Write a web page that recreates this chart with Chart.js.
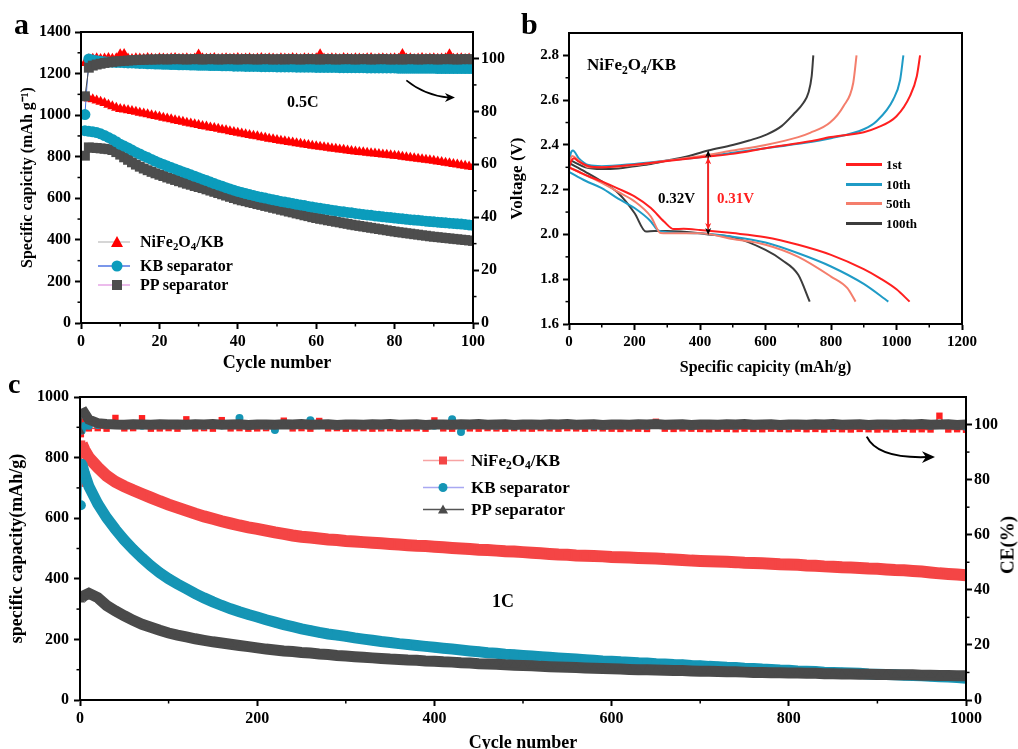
<!DOCTYPE html>
<html><head><meta charset="utf-8">
<script src="https://cdn.jsdelivr.net/npm/chart.js@4.4.1/dist/chart.umd.min.js"></script>
<style>
body{margin:0;background:#fff;width:1018px;height:749px;position:relative;overflow:hidden;font-family:'Liberation Serif','Times New Roman',serif;font-weight:bold;color:#000}
canvas{position:absolute}
.t{position:absolute;white-space:nowrap;line-height:1}
.row{position:absolute;display:flex;align-items:center;white-space:nowrap;line-height:1;transform:translateY(-50%)}
sub{font-size:68%;vertical-align:-0.32em;line-height:0}
</style></head><body>
<canvas id="ca" width="510" height="380" style="left:0;top:0"></canvas>
<canvas id="cb" width="518" height="380" style="left:500px;top:0"></canvas>
<canvas id="cc" width="1018" height="380" style="left:0;top:380px"></canvas>

<div class="t" style="left:14px;top:9px;font-size:30px">a</div>
<div class="t" style="left:521px;top:9px;font-size:30px">b</div>
<div class="t" style="left:8px;top:370px;font-size:28px">c</div>
<div class="t" style="left:287px;top:94px;font-size:16px">0.5C</div>
<div class="t" style="left:492px;top:592px;font-size:18px">1C</div>
<div class="t" style="left:587px;top:56px;font-size:17px">NiFe<sub>2</sub>O<sub>4</sub>/KB</div>
<div class="t" style="left:658px;top:191px;font-size:15px">0.32V</div>
<div class="t" style="left:717px;top:191px;font-size:15px;color:#ff1f1f">0.31V</div>
<div class="t" style="left:1007px;top:545px;font-size:19px;transform:translate(-50%,-50%) rotate(-90deg)">CE(%)</div>

<!-- legend a -->
<div class="row" style="left:98px;top:242px;font-size:16px"><svg width="34" height="14"><line x1="0" y1="7" x2="32" y2="7" stroke="#c8c8c8" stroke-width="1.5"/><polygon points="19,1 25,12 13,12" fill="#ff0000"/></svg><span style="margin-left:8px">NiFe<sub>2</sub>O<sub>4</sub>/KB</span></div>
<div class="row" style="left:98px;top:266px;font-size:16px"><svg width="34" height="14"><line x1="0" y1="7" x2="32" y2="7" stroke="#4f74e3" stroke-width="1.5"/><circle cx="19" cy="7" r="5.5" fill="#0b9cbc"/></svg><span style="margin-left:8px">KB separator</span></div>
<div class="row" style="left:98px;top:285px;font-size:16px"><svg width="34" height="14"><line x1="0" y1="7" x2="32" y2="7" stroke="#e6a6e6" stroke-width="1.5"/><rect x="14" y="2" width="10" height="10" fill="#4d4d4d"/></svg><span style="margin-left:8px">PP separator</span></div>

<!-- legend b -->
<div class="row" style="left:846px;top:164px;font-size:13px"><svg width="37" height="6"><line x1="0" y1="3" x2="36" y2="3" stroke="#ff1f1f" stroke-width="3"/></svg><span style="margin-left:3px">1st</span></div>
<div class="row" style="left:846px;top:184px;font-size:13px"><svg width="37" height="6"><line x1="0" y1="3" x2="36" y2="3" stroke="#1f9bc6" stroke-width="3"/></svg><span style="margin-left:3px">10th</span></div>
<div class="row" style="left:846px;top:203px;font-size:13px"><svg width="37" height="6"><line x1="0" y1="3" x2="36" y2="3" stroke="#f47e6c" stroke-width="3"/></svg><span style="margin-left:3px">50th</span></div>
<div class="row" style="left:846px;top:223px;font-size:13px"><svg width="37" height="6"><line x1="0" y1="3" x2="36" y2="3" stroke="#3c3c3c" stroke-width="3"/></svg><span style="margin-left:3px">100th</span></div>

<!-- legend c -->
<div class="row" style="left:423px;top:460px;font-size:17px"><svg width="42" height="12"><line x1="0" y1="6" x2="41" y2="6" stroke="#f7a3a3" stroke-width="1.5"/><rect x="16" y="2" width="8" height="8" fill="#f44545"/></svg><span style="margin-left:6px">NiFe<sub>2</sub>O<sub>4</sub>/KB</span></div>
<div class="row" style="left:423px;top:487px;font-size:17px"><svg width="42" height="12"><line x1="0" y1="6" x2="41" y2="6" stroke="#a8a8f2" stroke-width="1.5"/><circle cx="20" cy="6" r="4.5" fill="#1595b5"/></svg><span style="margin-left:6px">KB separator</span></div>
<div class="row" style="left:423px;top:509px;font-size:17px"><svg width="42" height="12"><line x1="0" y1="6" x2="41" y2="6" stroke="#555" stroke-width="1.5"/><polygon points="20,1 25,10 15,10" fill="#4a4a4a"/></svg><span style="margin-left:6px">PP separator</span></div>

<script>
// ---------------- Panel a (0.5C, 100 cycles) ----------------
const cyclesA = Array.from({length: 100}, (_, i) => i + 1);
const xTicksA = [0, 20, 40, 60, 80, 100];
const yTicksA = [0, 200, 400, 600, 800, 1000, 1200, 1400];
const y2TicksA = [0, 20, 40, 60, 80, 100];
const redCapA = [1085,1080,1076,1070,1065,1058,1050,1043,1036,1030,
 1027,1024,1020,1016,1012,1008,1004,1000,996,992,
 988,984,980,976,972,968,964,960,956,952,
 948,945,941,938,934,930,927,923,919,915,
 912,908,905,901,898,894,891,887,884,880,
 877,874,871,868,865,862,859,856,853,850,
 848,845,843,840,838,835,833,830,828,825,
 823,821,819,817,815,813,811,809,807,805,
 803,800,798,795,793,790,788,785,783,780,
 777,774,771,768,765,762,759,756,753,750];
const cyanCapA = [925,922,920,916,910,902,893,883,872,860,
 851,842,832,822,813,804,796,787,778,770,
 763,755,748,741,734,727,720,713,706,699,
 692,685,678,671,664,658,651,645,639,633,
 628,623,618,614,609,605,601,597,593,589,
 585,582,578,575,571,568,565,561,558,555,
 552,549,546,543,540,537,535,532,530,527,
 525,522,520,518,515,513,511,509,507,505,
 503,501,499,497,495,494,492,490,488,487,
 485,483,482,480,479,477,476,474,472,470];
const grayCapA = [805,845,843,842,840,838,836,832,822,810,
 797,785,773,762,752,743,735,727,720,713,
 707,700,694,688,682,676,670,665,659,654,
 649,643,637,631,625,619,613,607,601,595,
 590,586,581,577,572,568,563,559,554,550,
 545,541,536,532,527,523,518,514,509,505,
 501,498,494,491,487,484,480,477,473,470,
 467,464,461,458,455,452,449,446,443,440,
 437,435,432,430,427,425,422,420,417,415,
 413,411,409,407,405,403,401,399,397,395];
const redCEa = [98.3,99.7,99.9,100.1,99.8,100.0,100.2,99.9,100.1,101.6,
 101.7,100.0,99.8,100.1,100.0,99.9,100.2,100.0,99.8,100.1,
 100.0,99.9,100.1,100.2,99.9,100.0,100.1,99.8,100.0,101.5,
 100.1,99.9,100.0,100.2,99.8,100.0,100.1,99.9,100.0,100.2,
 99.9,100.0,100.1,99.8,100.0,100.2,99.9,100.1,100.0,99.8,
 100.1,100.0,99.9,100.2,100.0,99.8,100.1,100.0,99.9,100.1,
 101.6,100.0,99.9,100.1,100.0,99.8,100.2,100.0,99.9,100.1,
 100.0,99.9,100.1,100.2,99.8,100.0,100.1,99.9,100.0,100.1,
 99.9,101.7,100.0,100.1,99.8,100.0,100.2,99.9,100.0,100.1,
 99.9,100.0,100.1,101.6,99.9,100.0,100.1,99.8,100.0,100.1];
const cyanCEa = [78.8,99.8,99.4,99.1,98.9,98.8,98.7,98.6,98.5,98.5,
 98.4,98.3,98.3,98.2,98.1,98.1,98.0,98.0,97.9,97.9,
 97.8,97.8,97.7,97.7,97.6,97.6,97.6,97.5,97.5,97.4,
 97.4,97.4,97.3,97.3,97.3,97.2,97.2,97.2,97.1,97.1,
 97.1,97.0,97.0,97.0,97.0,96.9,96.9,96.9,96.9,96.8,
 96.8,96.8,96.8,96.8,96.7,96.7,96.7,96.7,96.7,96.6,
 96.6,96.6,96.6,96.6,96.6,96.5,96.5,96.5,96.5,96.5,
 96.5,96.5,96.4,96.4,96.4,96.4,96.4,96.4,96.4,96.4,
 96.3,96.3,96.3,96.3,96.3,96.3,96.3,96.3,96.3,96.3,
 96.2,96.2,96.2,96.2,96.2,96.2,96.2,96.2,96.2,96.2];
const grayCEa = [85.7,96.5,97.3,97.7,98.0,98.3,98.5,98.7,98.9,99.0,
 99.1,99.2,99.3,99.4,99.5,99.5,99.6,99.6,99.6,99.7,
 99.7,99.6,99.7,99.8,99.7,99.7,99.6,99.7,99.8,99.7,
 99.6,99.7,99.8,99.7,99.6,99.7,99.7,99.8,99.7,99.6,
 99.7,99.8,99.7,99.7,99.6,99.7,99.8,99.7,99.6,99.7,
 99.7,99.6,99.8,99.7,99.7,99.6,99.7,99.8,99.7,99.7,
 99.6,99.7,99.8,99.7,99.6,99.7,99.7,99.8,99.7,99.6,
 99.7,99.8,99.7,99.6,99.7,99.7,99.8,99.7,99.6,99.7,
 99.7,99.6,99.7,99.8,99.7,99.6,99.7,99.7,99.8,99.7,
 99.6,99.7,99.8,99.7,99.7,99.6,99.7,99.8,99.7,99.7];
const xMinorA = [10, 30, 50, 70, 90];
const yMinorA = [100, 300, 500, 700, 900, 1100, 1300];
const y2MinorA = [10, 30, 50, 70, 90];
const arrowAx = [83, 87.7, 95.4], arrowAy = [91.7, 86.0, 85.2];

// ---------------- Panel b (voltage profiles) ----------------
const xTicksB = [0, 200, 400, 600, 800, 1000, 1200];
const yTicksB = [1.6, 1.8, 2.0, 2.2, 2.4, 2.6, 2.8];
const xMinorB = [100, 300, 500, 700, 900, 1100];
const yMinorB = [1.7, 1.9, 2.1, 2.3, 2.5, 2.7];
const cycleNames = ['1st', '10th', '50th', '100th'];
const dis1Cap = [0,30,60,100,150,200,250,290,320,350,400,500,600,700,800,900,950,1000,1040];
const dis1V   = [2.30,2.28,2.26,2.237,2.205,2.17,2.118,2.058,2.024,2.025,2.02,2.006,1.988,1.954,1.909,1.845,1.804,1.755,1.70];
const ch1Cap  = [0,8,15,30,60,100,200,300,430,500,603,736,800,900,939,1000,1041,1062,1072];
const ch1V    = [2.30,2.33,2.34,2.325,2.305,2.30,2.312,2.328,2.349,2.36,2.386,2.416,2.435,2.457,2.476,2.528,2.618,2.707,2.80];
const dis10Cap = [0,50,100,150,200,250,270,300,400,500,600,700,800,900,975];
const dis10V   = [2.28,2.24,2.207,2.16,2.118,2.058,2.02,2.01,2.005,1.99,1.964,1.916,1.857,1.779,1.70];
const ch10Cap  = [0,5,12,30,60,100,200,300,400,500,600,700,800,900,939,990,1011,1021];
const ch10V    = [2.28,2.36,2.375,2.34,2.31,2.305,2.315,2.33,2.345,2.365,2.385,2.405,2.43,2.47,2.506,2.603,2.69,2.80];
const dis50Cap = [0,50,100,150,200,250,280,300,400,500,600,700,800,850,875];
const dis50V   = [2.30,2.265,2.23,2.19,2.148,2.08,2.006,2.005,2.005,1.98,1.954,1.90,1.812,1.76,1.70];
const ch50Cap  = [0,10,30,60,100,200,300,400,500,600,700,736,797,838,868,878];
const ch50V    = [2.32,2.35,2.33,2.30,2.30,2.31,2.33,2.35,2.375,2.40,2.435,2.454,2.50,2.573,2.678,2.80];
const dis100Cap = [0,50,100,150,200,235,260,300,400,425,500,600,650,700,735];
const dis100V   = [2.32,2.28,2.237,2.185,2.096,2.013,2.015,2.015,2.005,2.0,1.988,1.931,1.886,1.82,1.70];
const ch100Cap  = [0,20,50,100,150,200,250,300,350,425,500,550,603,649,685,716,731,741,746];
const ch100V    = [2.335,2.32,2.30,2.292,2.295,2.305,2.315,2.33,2.345,2.375,2.40,2.42,2.446,2.484,2.536,2.588,2.633,2.707,2.80];
const gapCap = 425, gapBlack = [1.998, 2.376], gapRed = [2.02, 2.345];

// ---------------- Panel c (1C, 1000 cycles) ----------------
const cyclesC = [1, 2, 5].concat(Array.from({length: 100}, (_, i) => (i + 1) * 10));
const xTicksC = [0, 200, 400, 600, 800, 1000];
const yTicksC = [0, 200, 400, 600, 800, 1000];
const y2TicksC = [0, 20, 40, 60, 80, 100];
const xMinorC = [100, 300, 500, 700, 900];
const yMinorC = [100, 300, 500, 700, 900];
const y2MinorC = [10, 30, 50, 70, 90];
const redCapC = [715,845,825,
 800,768,740,720,705,692,680,668,656,645,
 635,625,615,606,598,590,583,576,570,565,
 559,553,548,543,539,536,533,530,528,525,
 523,521,519,517,515,513,511,509,508,506,
 504,502,500,498,496,495,493,491,490,488,
 486,484,482,480,479,477,476,475,474,472,
 471,470,469,468,467,465,464,462,460,459,
 458,457,456,455,453,452,451,450,448,447,
 446,444,443,441,440,438,437,436,434,433,
 431,429,428,426,424,421,418,416,414,412];
const cyanCapC = [643,780,748,
 705,648,602,563,528,497,469,443,420,400,
 383,367,351,337,324,312,301,291,282,274,
 265,257,249,242,235,229,223,218,214,210,
 205,201,197,193,190,186,183,180,177,174,
 171,168,165,162,159,156,154,151,149,147,
 145,143,141,139,137,135,133,131,129,128,
 126,125,123,122,120,119,117,116,114,113,
 111,110,108,107,105,104,102,101,99,98,
 96,95,94,92,91,90,89,88,86,85,
 84,83,82,81,80,78,77,76,74,72];
const grayCapC = [330,338,345,
 352,338,312,294,278,263,250,240,230,221,
 214,208,202,197,192,188,184,180,176,172,
 168,165,162,160,157,155,152,150,147,145,
 143,141,139,137,135,134,132,131,129,128,
 126,125,123,122,120,119,118,116,115,114,
 113,111,110,109,108,107,106,105,104,103,
 102,101,100,100,99,98,97,97,96,95,
 95,94,93,93,92,91,91,90,90,89,
 89,88,88,87,87,86,86,85,85,84,
 84,83,83,83,82,82,81,81,80,80];
const redCEc = [96.5,101.0,99.0,
 98.6,98.7,98.5,102.4,98.6,98.7,102.3,98.5,98.6,98.7,
 98.5,101.9,98.6,98.7,98.5,101.6,98.6,98.7,98.5,98.6,
 98.7,98.5,101.4,98.6,98.7,98.5,101.3,98.6,98.7,98.5,
 98.6,98.7,98.5,98.6,98.7,98.5,98.6,98.7,98.5,101.5,
 98.6,98.5,98.7,98.6,98.5,98.7,98.6,98.5,98.7,98.6,
 98.5,98.7,98.6,98.5,98.7,98.6,98.5,98.7,98.6,98.5,
 98.4,98.6,98.5,98.4,101.0,98.5,98.4,98.6,98.5,98.4,
 98.3,98.5,98.4,98.3,98.5,98.4,98.3,98.5,98.4,98.3,
 98.5,98.3,98.4,98.2,98.4,98.3,98.2,98.4,98.3,98.2,
 98.3,98.2,98.4,98.2,98.3,98.2,103.2,98.2,98.3,98.1];
const cyanCEc = [99.0,97.8,99.5,
 99.6,99.8,99.7,99.9,99.7,99.8,99.6,99.9,99.7,99.8,
 99.7,99.9,99.8,99.6,99.8,99.7,99.9,102.4,99.7,99.8,
 99.6,98.0,99.8,99.7,99.9,101.6,99.7,99.8,99.6,99.8,
 99.7,99.9,99.8,99.6,99.8,99.7,99.9,99.7,99.8,99.6,
 99.8,101.9,97.3,99.7,99.9,99.8,99.6,99.8,99.7,99.9,
 99.7,99.8,99.6,99.8,99.9,99.7,99.8,99.6,99.8,99.7,
 99.9,99.7,99.8,99.6,99.8,99.7,99.9,99.8,99.6,99.8,
 99.7,99.9,99.8,99.6,99.8,99.7,99.9,99.7,99.8,99.6,
 99.8,99.7,99.9,99.8,99.6,99.8,99.7,99.9,99.7,99.8,
 99.6,99.8,99.7,99.9,99.8,99.6,99.8,99.7,99.9,99.2];
const grayCEc = [97.5,103.8,104.3,
 101.8,100.5,100.2,100.0,99.9,100.1,100.0,99.9,100.1,100.0,
 100.0,99.9,100.1,100.0,100.2,99.9,100.0,100.1,99.8,100.0,
 100.0,99.9,100.1,100.0,100.2,99.9,100.0,100.1,99.8,100.0,
 100.0,99.9,100.1,100.0,100.2,99.9,100.0,100.1,99.8,100.0,
 100.0,99.9,100.1,100.0,100.2,99.9,100.0,100.1,99.8,100.0,
 100.0,99.9,100.1,100.0,100.2,99.9,100.0,100.1,99.8,100.0,
 100.0,99.9,100.1,100.0,100.2,99.9,100.0,100.1,99.8,100.0,
 100.0,99.9,100.1,100.0,100.2,99.9,100.0,100.1,99.8,100.0,
 100.0,99.9,100.1,100.0,100.2,99.9,100.0,100.1,99.8,100.0,
 100.0,99.9,100.1,100.0,100.2,99.9,100.0,100.1,99.8,100.0];
const arrowCx = [888, 900, 965], arrowCy = [95.6, 87.6, 88.2];

// ---------------- helpers ----------------
Chart.defaults.font.family = "'Liberation Serif','Times New Roman',serif";
Chart.defaults.font.weight = 'bold';
Chart.defaults.color = '#000';

const pts = (xs, ys) => xs.map((x, i) => ({x: x, y: ys[i]}));

function axis(o) {
  return {
    type: 'linear', position: o.pos, min: o.min, max: o.max,
    afterFit: s => { if (o.pos === 'left' || o.pos === 'right') s.width = o.size; else s.height = o.size; },
    afterBuildTicks: s => { s.ticks = o.ticks.map(v => ({value: v})); },
    grid: {display: true, drawOnChartArea: false, drawTicks: true, tickLength: 6, tickWidth: 2, tickColor: '#000'},
    border: {display: true, color: '#000', width: 2},
    ticks: {font: {size: o.fs, weight: 'bold'}, color: '#000', padding: o.pad, maxRotation: 0, autoSkip: false,
            callback: o.fmt || (v => String(v))},
    title: o.title ? {display: true, text: o.title, color: '#000', font: {size: o.tfs, weight: 'bold'}, padding: o.tpad} : {display: false}
  };
}

const frame = {
  id: 'frame',
  afterDatasetsDraw(chart) {
    const {ctx, chartArea: a} = chart;
    ctx.save(); ctx.strokeStyle = '#000'; ctx.lineWidth = 2;
    ctx.strokeRect(a.left, a.top, a.right - a.left, a.bottom - a.top);
    ctx.restore();
  }
};
const minorTicks = {
  id: 'minorTicks',
  afterDraw(chart, args, opts) {
    const ctx = chart.ctx;
    (opts.list || []).forEach(m => {
      const s = chart.scales[m.axis];
      ctx.save(); ctx.strokeStyle = '#000'; ctx.lineWidth = 1.5;
      m.values.forEach(v => {
        const p = s.getPixelForValue(v);
        ctx.beginPath();
        if (s.isHorizontal()) { ctx.moveTo(p, s.top); ctx.lineTo(p, s.top + 3.5); }
        else if (s.position === 'left') { ctx.moveTo(s.right, p); ctx.lineTo(s.right - 3.5, p); }
        else { ctx.moveTo(s.left, p); ctx.lineTo(s.left + 3.5, p); }
        ctx.stroke();
      });
      ctx.restore();
    });
  }
};
function head(ctx, from, to, size, wid) {
  const ang = Math.atan2(to[1] - from[1], to[0] - from[0]);
  const c = Math.cos(ang), s = Math.sin(ang);
  ctx.beginPath();
  ctx.moveTo(to[0], to[1]);
  ctx.lineTo(to[0] - size * c + wid * s, to[1] - size * s - wid * c);
  ctx.lineTo(to[0] - size * 0.7 * c, to[1] - size * 0.7 * s);
  ctx.lineTo(to[0] - size * c - wid * s, to[1] - size * s + wid * c);
  ctx.closePath(); ctx.fill();
}
const deco = {
  id: 'deco',
  afterDatasetsDraw(chart, args, opts) {
    const ctx = chart.ctx;
    (opts.curves || []).forEach(cv => {
      const xs = chart.scales.x, ys = chart.scales[cv.yAxis];
      const P = cv.xs.map((v, i) => [xs.getPixelForValue(v), ys.getPixelForValue(cv.ys[i])]);
      ctx.save(); ctx.strokeStyle = '#000'; ctx.fillStyle = '#000'; ctx.lineWidth = cv.w;
      ctx.beginPath(); ctx.moveTo(P[0][0], P[0][1]);
      ctx.quadraticCurveTo(P[1][0], P[1][1], P[2][0] - cv.head * 0.6, P[2][1]);
      ctx.stroke();
      head(ctx, [P[2][0] - 10, P[2][1]], P[2], cv.head, cv.head * 0.45);
      ctx.restore();
    });
    (opts.gaps || []).forEach(g => {
      const xs = chart.scales.x, ys = chart.scales.y;
      const x = xs.getPixelForValue(g.x);
      [[g.black, '#000', 1.3], [g.red, '#ff1f1f', 1.8]].forEach(([r, col, w]) => {
        const yb = ys.getPixelForValue(r[0]), yt = ys.getPixelForValue(r[1]);
        ctx.save(); ctx.strokeStyle = col; ctx.fillStyle = col; ctx.lineWidth = w;
        ctx.beginPath(); ctx.moveTo(x, yt + 4); ctx.lineTo(x, yb - 4); ctx.stroke();
        head(ctx, [x, yt + 10], [x, yt], 7, 3);
        head(ctx, [x, yb - 10], [x, yb], 7, 3);
        ctx.restore();
      });
    });
  }
};
const base = {responsive: false, animation: false, devicePixelRatio: 1, events: []};

// ---------------- Chart a ----------------
new Chart(document.getElementById('ca'), {
  type: 'line',
  data: {datasets: [
    {data: pts(cyclesA, grayCEa), yAxisID: 'y2', order: 0, borderColor: '#4d4d4d', borderWidth: 1, pointStyle: 'rect', pointRadius: 7, pointBackgroundColor: '#4d4d4d', pointBorderWidth: 0},
    {data: pts(cyclesA, redCEa), yAxisID: 'y2', order: 2, borderColor: '#ff0000', borderWidth: 1, pointStyle: 'triangle', pointRadius: 6, pointBackgroundColor: '#ff0000', pointBorderWidth: 0},
    {data: pts(cyclesA, cyanCEa), yAxisID: 'y2', order: 1, borderColor: '#3f6fe0', borderWidth: 1, pointStyle: 'circle', pointRadius: 5.5, pointBackgroundColor: '#0b9cbc', pointBorderWidth: 0},
    {data: pts(cyclesA, redCapA), yAxisID: 'y', order: 3, borderColor: '#ff0000', borderWidth: 1, pointStyle: 'triangle', pointRadius: 6, pointBackgroundColor: '#ff0000', pointBorderWidth: 0},
    {data: pts(cyclesA, cyanCapA), yAxisID: 'y', order: 3, borderColor: '#0b9cbc', borderWidth: 1, pointStyle: 'circle', pointRadius: 5.5, pointBackgroundColor: '#0b9cbc', pointBorderWidth: 0},
    {data: pts(cyclesA, grayCapA), yAxisID: 'y', order: 3, borderColor: '#4d4d4d', borderWidth: 1, pointStyle: 'rect', pointRadius: 7, pointBackgroundColor: '#4d4d4d', pointBorderWidth: 0}
  ]},
  options: Object.assign({}, base, {
    layout: {padding: {top: 32, left: 0, right: 0, bottom: 0}, autoPadding: false},
    plugins: {legend: {display: false}, tooltip: {enabled: false},
      minorTicks: {list: [{axis: 'x', values: xMinorA}, {axis: 'y', values: yMinorA}, {axis: 'y2', values: y2MinorA}]},
      deco: {curves: [{xs: arrowAx, ys: arrowAy, yAxis: 'y2', w: 1.6, head: 10}]}},
    scales: {
      x: axis({pos: 'bottom', min: 0, max: 100, size: 57, ticks: xTicksA, fs: 16, pad: 3, title: 'Cycle number', tfs: 18, tpad: {top: 0, bottom: 6}}),
      y: axis({pos: 'left', min: 0, max: 1400, size: 81, ticks: yTicksA, fs: 16, pad: 4, title: 'Specific capicity (mAh g⁻¹)', tfs: 16, tpad: {top: 18, bottom: 0}}),
      y2: axis({pos: 'right', min: 0, max: 110, size: 37, ticks: y2TicksA, fs: 16, pad: 2})
    }
  }),
  plugins: [frame, minorTicks, deco]
});

// ---------------- Chart b ----------------
const colsB = ['#ff1f1f', '#1f9bc6', '#f47e6c', '#3c3c3c'];
const branchesB = [[dis1Cap, dis1V, ch1Cap, ch1V], [dis10Cap, dis10V, ch10Cap, ch10V], [dis50Cap, dis50V, ch50Cap, ch50V], [dis100Cap, dis100V, ch100Cap, ch100V]];
const dsB = [];
branchesB.forEach((b, k) => {
  const ord = [0, 2, 1, 3][k];
  dsB.push({label: cycleNames[k], data: pts(b[0], b[1]), order: ord, borderColor: colsB[k], borderWidth: 2, pointRadius: 0, cubicInterpolationMode: 'monotone'});
  dsB.push({label: cycleNames[k], data: pts(b[2], b[3]), order: ord, borderColor: colsB[k], borderWidth: 2, pointRadius: 0, cubicInterpolationMode: 'monotone'});
});
new Chart(document.getElementById('cb'), {
  type: 'line',
  data: {datasets: dsB},
  options: Object.assign({}, base, {
    layout: {padding: {top: 33, left: 0, right: 56, bottom: 0}, autoPadding: false},
    plugins: {legend: {display: false}, tooltip: {enabled: false},
      minorTicks: {list: [{axis: 'x', values: xMinorB}, {axis: 'y', values: yMinorB}]},
      deco: {gaps: [{x: gapCap, black: gapBlack, red: gapRed}]}},
    scales: {
      x: axis({pos: 'bottom', min: 0, max: 1200, size: 56, ticks: xTicksB, fs: 15, pad: 3, title: 'Specific capicity (mAh/g)', tfs: 16, tpad: {top: 0, bottom: 3}}),
      y: axis({pos: 'left', min: 1.6, max: 2.9, size: 69, ticks: yTicksB, fs: 15, pad: 4, fmt: v => v.toFixed(1), title: 'Voltage (V)', tfs: 17, tpad: {top: 7, bottom: 0}})
    }
  }),
  plugins: [frame, minorTicks, deco]
});

// ---------------- Chart c ----------------
const thick = w => ({borderWidth: c => (c.p0DataIndex === 0 ? 1 : w)});
new Chart(document.getElementById('cc'), {
  type: 'line',
  data: {datasets: [
    {data: pts(cyclesC, grayCEc), yAxisID: 'y2', order: 0, borderColor: '#4a4a4a', borderWidth: 10, segment: thick(10), pointStyle: 'triangle', pointRadius: 4.5, pointBackgroundColor: '#4a4a4a', pointBorderWidth: 0},
    {data: pts(cyclesC, cyanCEc), yAxisID: 'y2', order: 1, borderColor: '#1595b5', borderWidth: 1.5, pointStyle: 'circle', pointRadius: 4, pointBackgroundColor: '#1595b5', pointBorderWidth: 0},
    {data: pts(cyclesC, redCEc), yAxisID: 'y2', order: 2, borderColor: '#f44545', borderWidth: 1.5, pointStyle: 'rect', pointRadius: 4.5, pointBackgroundColor: '#ff2020', pointBorderWidth: 0},
    {data: pts(cyclesC, grayCapC), yAxisID: 'y', order: 0, borderColor: '#4a4a4a', borderWidth: 11, segment: thick(11), pointStyle: 'triangle', pointRadius: 5, pointBackgroundColor: '#4a4a4a', pointBorderWidth: 0},
    {data: pts(cyclesC, cyanCapC), yAxisID: 'y', order: 1, borderColor: '#1595b5', borderWidth: 11, segment: thick(11), pointStyle: 'circle', pointRadius: 5, pointBackgroundColor: '#1595b5', pointBorderWidth: 0},
    {data: pts(cyclesC, redCapC), yAxisID: 'y', order: 1, borderColor: '#f44545', borderWidth: 12, segment: thick(12), pointStyle: 'rect', pointRadius: 5, pointBackgroundColor: '#f44545', pointBorderWidth: 0}
  ]},
  options: Object.assign({}, base, {
    layout: {padding: {top: 17, left: 0, right: 0, bottom: 0}, autoPadding: false},
    plugins: {legend: {display: false}, tooltip: {enabled: false},
      minorTicks: {list: [{axis: 'x', values: xMinorC}, {axis: 'y', values: yMinorC}, {axis: 'y2', values: y2MinorC}]},
      deco: {curves: [{xs: arrowCx, ys: arrowCy, yAxis: 'y2', w: 2, head: 13}]}},
    scales: {
      x: axis({pos: 'bottom', min: 0, max: 1000, size: 60, ticks: xTicksC, fs: 16, pad: 3, title: 'Cycle number', tfs: 18, tpad: {top: 0, bottom: 6}}),
      y: axis({pos: 'left', min: 0, max: 1000, size: 80, ticks: yTicksC, fs: 16, pad: 5, title: 'specific capacity(mAh/g)', tfs: 18, tpad: {top: 7, bottom: 0}}),
      y2: axis({pos: 'right', min: 0, max: 110, size: 52, ticks: y2TicksC, fs: 16, pad: 2})
    }
  }),
  plugins: [frame, minorTicks, deco]
});
</script>
</body></html>
